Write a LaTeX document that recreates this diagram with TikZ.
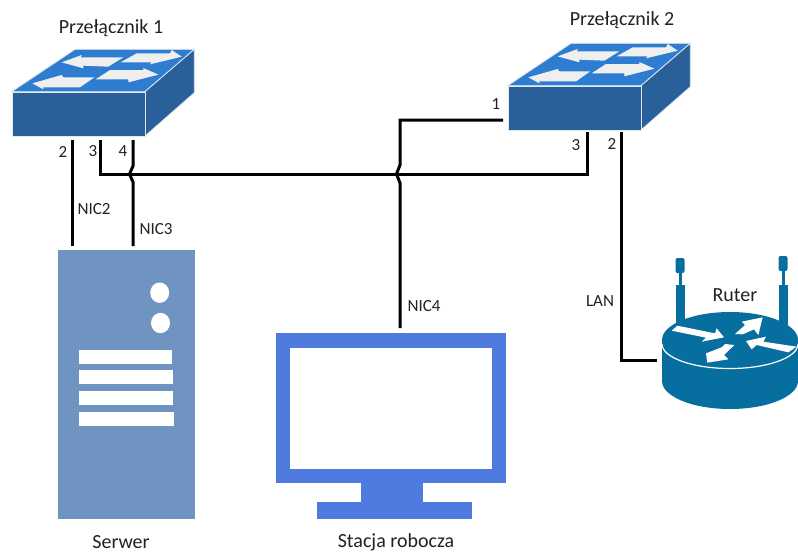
\documentclass[tikz,border=0pt]{standalone}
\usepackage{fontspec}
\setmainfont{Carlito}
\definecolor{swfront}{HTML}{2A6099}
\definecolor{swtop}{HTML}{2F7DD1}
\definecolor{swarrow}{HTML}{EFEFEF}
\definecolor{rtblue}{HTML}{066FA0}
\definecolor{srvblue}{HTML}{7094C1}
\definecolor{monblue}{HTML}{4F7AE0}
\definecolor{txt}{HTML}{222222}
\tikzset{
  wire/.style={draw=black,line width=3pt,line join=miter},
  lbl/.style={font=\fontsize{17}{20}\selectfont,text=txt,inner sep=0pt},
  ttl/.style={font=\fontsize{20}{24}\selectfont,text=txt,inner sep=0pt,anchor=base},
  swface/.style={draw=white!85!swfront,line width=0.8pt,fill=swfront},
  swtopface/.style={draw=white!85!swfront,line width=0.8pt,fill=swtop},
  swarr/.style={fill=swarrow},
  rtarr/.style={fill=white},
  srvbar/.style={fill=white},
  anthead/.style={fill=rtblue,rounded corners=2pt},
}
\newcommand{\switchicon}[3]{%
  \begin{scope}[shift={(#1,#2)},scale=1/3]
    \path[swtopface] (35,275) -- (225,148) -- (583,148) -- (435,275) -- cycle;
    \path[swface] (435,275) -- (583,148) -- (583,278) -- (435,408) -- cycle;
    \path[swarr] (185,187) -- (245,165) -- (243,172) -- (370,172) -- (325,200) -- (250,197) -- (250,205) -- cycle;
    \path[swarr] (362,187) -- (410,160) -- (510,160) -- (515,150) -- (545,170) -- (450,193) -- (455,187) -- cycle;
    \path[swarr] (97,250) -- (185,225) -- (190,232) -- (283,232) -- (240,262) -- (130,262) -- (130,268) -- cycle;
    \path[swarr] (287,238) -- (330,210) -- (430,210) -- (430,204) -- (475,224) -- (385,247) -- (385,238) -- cycle;
  \end{scope}
  \node[swface,minimum width=133pt,minimum height=44pt,inner sep=0pt,outer sep=0pt,anchor=north west] (#3) at (12+#1,92+#2) {};
}
\begin{document}
\begin{tikzpicture}[x=1pt,y=-1pt]
\useasboundingbox (0,0) rectangle (798,552);
\fill[white] (0,0) rectangle (798,552);

% switches
\switchicon{0}{0}{swa}
\switchicon{496}{-6}{swb}
\node[ttl] (swatitle) at (111,33) {Przełącznik 1};
\node[ttl] (swbtitle) at (622,25) {Przełącznik 2};

% server
\node[fill=srvblue,minimum width=137.5pt,minimum height=269.5pt,inner sep=0pt,outer sep=0pt,anchor=north west] (srv) at (57.5,249.5) {};
\fill[white] (159.7,292.7) ellipse (9.5 and 10.2);
\fill[white] (160.5,323) ellipse (9.5 and 10.2);
\fill[srvbar] (79,349.7) rectangle (172.3,364);
\fill[srvbar] (79,370.3) rectangle (172.7,384.3);
\fill[srvbar] (79,391.3) rectangle (172.7,405.3);
\fill[srvbar] (79,412) rectangle (173.7,426);
\node[ttl] (srvtitle) at (121,548) {Serwer};

% monitor
\fill[monblue] (316.7,502) rectangle (471.7,519.3);
\fill[monblue] (360.7,480) rectangle (423.3,502);
\node[fill=monblue,minimum width=229.7pt,minimum height=150.3pt,inner sep=0pt,outer sep=0pt,anchor=north west] (mon) at (276,332.7) {};
\fill[white] (290,348.3) rectangle (492.3,469.3);
\node[ttl] (montitle) at (396,547.5) {Stacja robocza};

% router
\path[anthead] (675.5,258) rectangle (684.5,273);
\fill[rtblue] (678.5,272) rectangle (681.5,286);
\fill[rtblue] (675.5,285) rectangle (684.5,325);
\path[anthead] (778.5,256) rectangle (787.5,271);
\fill[rtblue] (781.5,270) rectangle (784.5,285);
\fill[rtblue] (778.5,285) rectangle (787.5,325);
\fill[rtblue] (662,340) -- (662,381) arc[start angle=180,end angle=0,x radius=68,y radius=28] -- (798,340) -- cycle;
\fill[rtblue] (730,340) ellipse (68 and 28);
\draw[white,line width=1.2pt] (662,344) arc[start angle=180,end angle=0,x radius=68,y radius=24.5];
\node[inner sep=0pt,outer sep=0pt,minimum width=136pt,minimum height=96pt,anchor=north west] (rt) at (662,312) {};
\begin{scope}[shift={(600,240)},scale=1/3]
  \path[rtarr] (215,272) -- (232,257) -- (345,280) -- (350,265) -- (372,292) -- (305,305) -- (318,293) -- cycle;
  \path[rtarr] (405,282) -- (435,255) -- (425,245) -- (488,232) -- (475,285) -- (462,268) -- (428,283) -- cycle;
  \path[rtarr] (438,303) -- (498,290) -- (490,305) -- (590,320) -- (565,337) -- (470,315) -- (455,328) -- cycle;
  \path[rtarr] (403,315) -- (375,312) -- (365,322) -- (318,340) -- (322,368) -- (385,358) -- (372,345) -- cycle;
\end{scope}
\node[ttl] (rttitle) at (735,301) {Ruter};

% connection points
\coordinate (aptwo) at (72,140);
\coordinate (aptwoend) at (72,246);
\coordinate (apthree) at (100,140);
\coordinate (apfour) at (133,140);
\coordinate (apfourend) at (133,246);
\coordinate (bpthree) at (587,132);
\coordinate (bptwo) at (621,132);
\coordinate (bpone) at (503,120);
\coordinate (monup) at (400,328);
\coordinate (rtin) at (657,360);

% connectors
\draw[wire] (aptwo) -- (aptwoend);
\draw[wire] (apthree) |- (bpthree |- 0,174) -- (bpthree);
\draw[wire] (apfour) -- (133,166) -- (129.5,174) -- (133,182) -- (apfourend);
\draw[wire] (bpone) -| (400,165) -- (396.5,174) -- (400,183) -- (monup);
\draw[wire] (bptwo) |- (rtin);

% labels
\node[lbl] (la) at (63,152) {2};
\node[lbl] (lb) at (93,151) {3};
\node[lbl] (lc) at (123,151) {4};
\node[lbl] (ld) at (94,209) {NIC2};
\node[lbl] (le) at (156,229) {NIC3};
\node[lbl] (lf) at (424,306) {NIC4};
\node[lbl] (lg) at (496,104) {1};
\node[lbl] (lh) at (576,145) {3};
\node[lbl] (li) at (612,144) {2};
\node[lbl] (lj) at (600,301) {LAN};
\end{tikzpicture}
\end{document}
